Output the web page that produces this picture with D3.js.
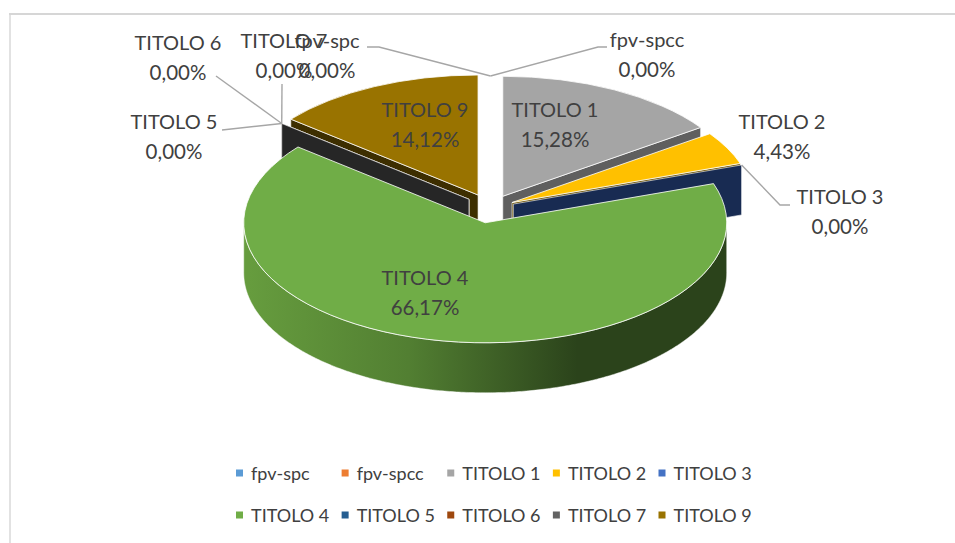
<!DOCTYPE html>
<html>
<head>
<meta charset="utf-8">
<script src="https://cdn.jsdelivr.net/npm/d3@7"></script>
<style>
    html, body { margin: 0; padding: 0; background: #fff; overflow: hidden; }
    text { font-family: Lato, "Open Sans", sans-serif; fill: #404040; }
</style>
</head>
<body>
<div id="chart"></div>
<script>
    // Data
    const categories = ["fpv-spc", "fpv-spcc", "TITOLO 1", "TITOLO 2", "TITOLO 3",
                        "TITOLO 4", "TITOLO 5", "TITOLO 6", "TITOLO 7", "TITOLO 9"];
    const percentages = [0, 0, 15.28, 4.43, 0, 66.17, 0, 0, 0, 14.12];
    const faceColors = ["#5b9bd5", "#ed7d31", "#a5a5a5", "#ffc000", "#4472c4",
                        "#70ad47", "#255e91", "#9e480e", "#636363", "#997300"];
    const wallColors = ["#24415c", "#5f3212", "#5f5f5f", "#664d00", "#182b52",
                        "#2b431b", "#0f2a44", "#3f1d06", "#262626", "#3d2e00"];
    const explosions = [0.1, 0.1, 0.11, 0.1, 0.1, 0.125, 0.115, 0.115, 0.115, 0.12];

    // Constants
    const width = 955;
    const height = 543;
    const center = {x: 490.5, y: 208};
    const radiusX = 241.5;
    const radiusY = 120;
    const depth = 50;
    const leaderColor = "#a6a6a6";

    // label anchors, in the order of categories
    const labelSpots = [[327, 48], [647, 47], [555, 117], [782, 129], [840, 204],
                        [425, 285], [174, 129], [178, 50], [284, 48], [425, 117]];

    const svg = d3.select("#chart")
        .append("svg")
        .attr("width", width)
        .attr("height", height);

    // chart frame, only the top and left edges are in the shot
    svg.append("path")
        .attr("d", "M10," + height + "V14")
        .attr("fill", "none")
        .attr("stroke", "#e2e2e2")
        .attr("stroke-width", 2);
    svg.append("path")
        .attr("d", "M9,14H" + width)
        .attr("fill", "none")
        .attr("stroke", "#d6d6d6")
        .attr("stroke-width", 2);

    const defs = svg.append("defs");
    const sideGradient = defs.append("linearGradient")
        .attr("id", "side")
        .attr("gradientUnits", "userSpaceOnUse")
        .attr("x1", center.x - radiusX).attr("x2", center.x + radiusX)
        .attr("y1", 0).attr("y2", 0);
    sideGradient.append("stop").attr("offset", 0).attr("stop-color", "#669c3e");
    sideGradient.append("stop").attr("offset", 0.33).attr("stop-color", "#527f32");
    sideGradient.append("stop").attr("offset", 0.68).attr("stop-color", "#2b431b");
    sideGradient.append("stop").attr("offset", 1).attr("stop-color", "#2b431b");

    const pie = d3.pie().sort(null).value(function(d){return d})(percentages);
    const slices = pie.map(function(d, i)
    {
        const apex = pointAt(center, explosions[i], (d.startAngle + d.endAngle) / 2);
        return {index: i, start: d.startAngle, end: d.endAngle, apex: apex};
    });

    // point on the tilted circle, r is a share of the radius
    function pointAt(origin, r, angle)
    {
        return {
            x: origin.x + r * radiusX * Math.sin(angle),
            y: origin.y - r * radiusY * Math.cos(angle)
        };
    }

    const lineGen = d3.line().x(function(d){return d.x}).y(function(d){return d.y});

    function drawWall(slice, angle)
    {
        const rim = pointAt(slice.apex, 1, angle);
        const corners = [slice.apex, rim,
            {x: rim.x, y: rim.y + depth},
            {x: slice.apex.x, y: slice.apex.y + depth}];
        svg.append("path")
            .attr("d", lineGen(corners) + "Z")
            .attr("fill", wallColors[slice.index])
            .attr("stroke", "#fff")
            .attr("stroke-opacity", 0.75)
            .attr("stroke-width", 0.8);
    }

    function drawRim(slice)
    {
        const from = Math.max(slice.start, Math.PI / 2);
        const to = Math.min(slice.end, Math.PI * 1.5);
        if(to <= from) return;
        const angles = d3.range(from, to, 0.01).concat([to]);
        const upper = angles.map(function(a){return pointAt(slice.apex, 1, a)});
        const lower = upper.map(function(p){return {x: p.x, y: p.y + depth}}).reverse();
        svg.append("path")
            .attr("d", lineGen(upper.concat(lower)) + "Z")
            .attr("fill", "url(#side)")
            .attr("stroke", "#fff")
            .attr("stroke-opacity", 0.6)
            .attr("stroke-width", 0.8);
    }

    function drawFace(slice)
    {
        if(slice.end - slice.start <= 0) return;
        const arc = d3.arc()
            .innerRadius(0)
            .outerRadius(radiusX)
            .startAngle(slice.start)
            .endAngle(slice.end);
        svg.append("path")
            .attr("d", arc())
            .attr("transform", "translate(" + slice.apex.x + "," + slice.apex.y + ") scale(1," + (radiusY / radiusX) + ")")
            .attr("fill", faceColors[slice.index])
            .attr("stroke", "#fff")
            .attr("stroke-opacity", 0.8)
            .attr("stroke-width", 1)
            .attr("vector-effect", "non-scaling-stroke");
    }

    // back to front, TITOLO 7 wall ends up over 5 and 6, big slice last
    const paintOrder = [0, 1, 2, 3, 4, 9, 6, 7, 8, 5];
    paintOrder.forEach(function(i)
    {
        const s = slices[i];
        if(s.end > 0 && s.end < Math.PI) drawWall(s, s.end);
        if(s.start > Math.PI && s.start < Math.PI * 2) drawWall(s, s.start);
        drawRim(s);
        drawFace(s);
    });

    // Leader lines, from the label to the rim of the slice
    const rimOf = function(i, a){return pointAt(slices[i].apex, 1, a)};
    const leaders = [
        {from: [[367, 47], [379, 47]], to: rimOf(0, slices[0].start)},
        {from: [[607, 47], [598, 47]], to: rimOf(1, slices[1].start)},
        {from: [[790, 205], [780, 205]], to: rimOf(4, slices[4].start)},
        {from: [[222, 130]], to: rimOf(6, slices[6].start)},
        {from: [[216, 76]], to: rimOf(7, slices[7].start)},
        {from: [[282, 84]], to: rimOf(8, slices[8].start)}
    ];
    leaders.forEach(function(l)
    {
        const points = l.from.map(function(p){return {x: p[0], y: p[1]}}).concat([l.to]);
        svg.append("path")
            .attr("d", lineGen(points))
            .attr("fill", "none")
            .attr("stroke", leaderColor)
            .attr("stroke-width", 1.4);
    });

    // Data labels
    const format = function(v){return v.toFixed(2).replace(".", ",") + "%"};
    const labels = svg.append("g").attr("text-anchor", "middle");
    categories.forEach(function(name, i)
    {
        const spot = labelSpots[i];
        labels.append("text").attr("x", spot[0]).attr("y", spot[1]).attr("font-size", 20).text(name);
        labels.append("text").attr("x", spot[0]).attr("y", spot[1] + 30).attr("font-size", 20.5).text(format(percentages[i]));
    });

    // Legend
    const legendX = d3.scalePoint().domain(d3.range(5)).range([239.5, 662]);
    const legendY = d3.scalePoint().domain([0, 1]).range([473, 515]);
    const legend = svg.append("g")
        .selectAll("g")
        .data(categories)
        .enter()
        .append("g")
        .attr("transform", function(d, i){return "translate(" + legendX(i % 5) + "," + legendY(Math.floor(i / 5)) + ")"});
    legend.append("rect")
        .attr("x", -3.5).attr("y", -3.5)
        .attr("width", 7).attr("height", 7)
        .attr("fill", function(d, i){return faceColors[i]});
    legend.append("text")
        .attr("x", 11.5)
        .attr("y", 6.5)
        .attr("font-size", 18)
        .text(function(d){return d});
</script>
</body>
</html>
